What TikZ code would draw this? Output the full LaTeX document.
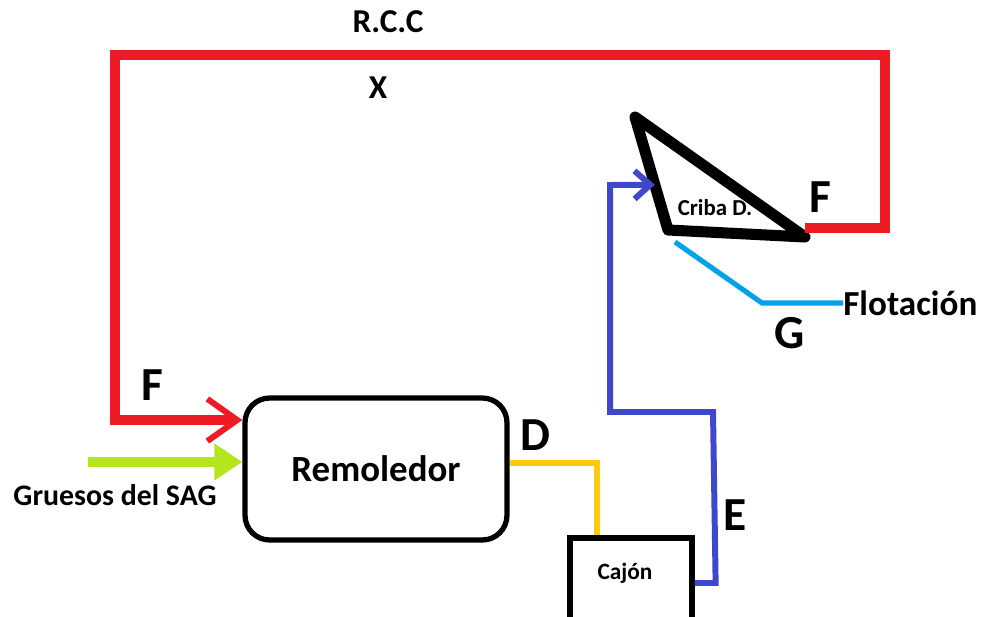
\documentclass[tikz,border=0pt]{standalone}
\usepackage{fontspec}
\setmainfont{Carlito}
\usetikzlibrary{arrows.meta,positioning,calc}
\definecolor{rojo}{HTML}{ED1C24}
\definecolor{lima}{HTML}{B5E61D}
\definecolor{azul}{HTML}{3F48CC}
\definecolor{celeste}{HTML}{00A2E8}
\definecolor{amarillo}{HTML}{FFC90E}
\tikzset{
  caja/.style={draw=black,line width=3pt,align=center,inner sep=0pt},
  tubo/.style={line width=2.9pt},
  letra/.style={font=\bfseries\fontsize{27pt}{30pt}\selectfont,inner sep=0pt},
  rotulo/.style={font=\bfseries\fontsize{#1}{1.2\dimexpr#1\relax}\selectfont,inner sep=0pt},
}

\begin{document}
\begin{tikzpicture}[x=0.02cm,y=-0.02cm]
  \useasboundingbox (0,0) rectangle (982,617);
  % equipos
  \node[caja,rounded corners=14pt,minimum width=5.24cm,minimum height=2.84cm,
        rotulo=21pt] (remoledor) at (376,469) {Remoledor};
  \node[caja,minimum width=2.44cm,minimum height=1.64cm] (cajon) at (631,579) {};
  \node[rotulo=13.3pt] (tcajon) at (625,573) {Cajón};
  \coordinate (c1) at (635,117);
  \coordinate (c2) at (668,230);
  \coordinate (c3) at (805,237);
  \draw[line width=6.3pt,line join=round,line cap=round] (c1) -- (c2) -- (c3) -- cycle;
  \node[rotulo=13pt] (criba) at (715,208) {Criba D.};
  % corrientes
  \coordinate (nivelF) at (0,420);
  \coordinate (nivelS) at (0,462);
  \coordinate (sag) at (88,462);
  \draw[tubo,rojo,line width=5.3pt,-{Straight Barb[length=17pt,width=24pt,line width=3.4pt]}]
    ($(c3)+(0,-9)$) -- (885,228) -- (885,55) -- (115,55) -- (115,420) -- (remoledor.west |- nivelF);
  \draw[tubo,lima,line width=5.7pt,-{Triangle[length=16pt,width=20pt]}]
    (sag) -- (remoledor.west |- nivelS);
  \draw[tubo,amarillo] ([yshift=0.12cm]remoledor.east) -| ([xshift=-0.68cm]cajon.north);
  \draw[tubo,azul,line width=3.4pt,-{Straight Barb[length=9pt,width=16pt,line width=3.4pt]}]
    ([yshift=-0.08cm]cajon.east) -- ++(21,0) -- (713,412) -| (610,185) -- ($(c1)!0.6!(c2)$);
  \node[rotulo=20pt,anchor=west] (flotacion) at (843,303) {Flotación};
  \draw[tubo,celeste] ($(c2)+(7,12)$) -- (762,303) -- (flotacion.west);
  % textos
  \node[rotulo=17pt] (gruesos) at (115,495) {Gruesos del SAG};
  \node[rotulo=19pt] (rcc) at (388,22) {R.C.C};
  \node[rotulo=19pt] (x) at (378,88) {X};
  \node[letra] (f1) at (152,385) {F};
  \node[letra] (f2) at (820,197) {F};
  \node[letra] (d) at (535,435) {D};
  \node[letra] (e) at (735,515) {E};
  \node[letra] (g) at (790,333) {G};
\end{tikzpicture}
\end{document}
